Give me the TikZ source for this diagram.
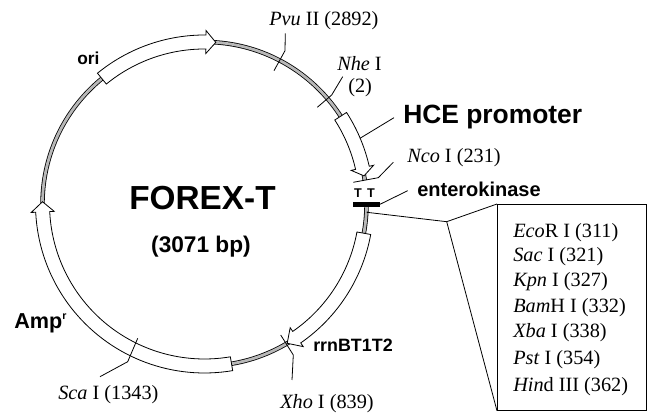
\documentclass[tikz,border=0pt]{standalone}
\usepackage{fontspec}
\setmainfont{Liberation Serif}
\setsansfont{Liberation Sans}
\newcommand{\arrowarc}[3]{%
  \pgfmathsetmacro{\angA}{#1}\pgfmathsetmacro{\angB}{#2}\pgfmathsetmacro{\angC}{#3}%
  \draw[featarrow] ([shift={(\angA:169)}]ctr) arc[start angle=\angA,end angle=\angB,radius=169]
    -- ([shift={(\angB:173.5)}]ctr) -- ([shift={(\angC:162)}]ctr) -- ([shift={(\angB:150.5)}]ctr)
    -- ([shift={(\angB:155)}]ctr) arc[start angle=\angB,end angle=\angA,radius=155] -- cycle;}
\tikzset{
  x=0.75pt,y=0.75pt,
  lead/.style={draw=black,line width=0.6pt},
  featarrow/.style={draw=black,line width=0.6pt,fill=white},
  site/.style={font=\fontsize{15.2}{17}\selectfont,inner sep=0pt},
}
\begin{document}
\begin{tikzpicture}
\useasboundingbox (0,0) rectangle (650,413);
\coordinate (ctr) at (204.5,209);
% backbone
\draw[black,line width=3.3pt] (ctr) circle[radius=162];
\draw[black!28,line width=2.1pt] (ctr) circle[radius=162];
\fill[white] (345,207) rectangle (385,233);
% feature arrows
\arrowarc{32.8}{12.9}{10}
\arrowarc{129.3}{89.5}{86}
\arrowarc{279.6}{182.8}{179.2}
\arrowarc{-10.4}{-55.3}{-59.3}
% enterokinase bar
\coordinate (barL) at (353.3,208.7);
\coordinate (barR) at (380,208.7);
\draw[black,line width=3.4pt] (barL) -- (barR);
% text
\node[font=\sffamily\bfseries\fontsize{25}{28}\selectfont,inner sep=0pt] (title) at (202.5,215) {FOREX-T};
\node[font=\sffamily\bfseries\fontsize{17}{19}\selectfont,inner sep=0pt] (size) at (201,166) {(3071 bp)};
\node[font=\sffamily\bfseries\fontsize{19.8}{22}\selectfont,inner sep=0pt,anchor=west] (hce) at (403,296) {HCE promoter};
\node[font=\sffamily\bfseries\fontsize{15}{17}\selectfont,inner sep=0pt,anchor=west] (enk) at (417,224) {enterokinase};
\node[font=\sffamily\bfseries\fontsize{13}{15}\selectfont,inner sep=0pt,anchor=west] (ori) at (77,355) {ori};
\node[font=\sffamily\bfseries\fontsize{13.4}{15}\selectfont,inner sep=0pt,anchor=west] (rrn) at (313,68) {rrnBT1T2};
\node[font=\sffamily\bfseries\fontsize{16.2}{18}\selectfont,inner sep=0pt,anchor=west] (amp) at (14,90) {Amp\textsuperscript{\fontsize{8}{9}\selectfont r}};
\node[site,anchor=west] (pvu) at (269,392.5) {\textit{Pvu} II (2892)};
\node[site,anchor=west] (nhe) at (337,349.5) {\textit{Nhe} I};
\node[site,anchor=west] (nhe2) at (348,325.5) {(2)};
\node[site,anchor=west] (nco) at (407,255.5) {\textit{Nco} I (231)};
\node[site,anchor=west] (xho) at (280,9.5) {\textit{Xho} I (839)};
\node[site,anchor=west] (sca) at (58,18.5) {\textit{Sca} I (1343)};
\node[font=\sffamily\bfseries\fontsize{9.5}{10}\selectfont,inner sep=0pt] (t1) at (358,220) {T};
\node[font=\sffamily\bfseries\fontsize{9.5}{10}\selectfont,inner sep=0pt] (t2) at (371,220) {T};
% box
\node[draw=black,line width=0.6pt,minimum width=149*0.75pt,minimum height=206*0.75pt,inner sep=0pt,anchor=north west] (box) at (497,209) {};
\node[site,anchor=west] (s1) at (513,180) {\textit{Eco}R I (311)};
\node[site,anchor=west] (s2) at (513,156) {\textit{Sac} I (321)};
\node[site,anchor=west] (s3) at (513,131) {\textit{Kpn} I (327)};
\node[site,anchor=west] (s4) at (513,105) {\textit{Bam}H I (332)};
\node[site,anchor=west] (s5) at (513,80) {\textit{Xba} I (338)};
\node[site,anchor=west] (s6) at (513,53) {\textit{Pst} I (354)};
\node[site,anchor=west] (s7) at (513,26) {\textit{Hin}d III (362)};
% leaders
\coordinate (pvuA) at (274,342.3); \coordinate (pvuB) at (285,362.3); \coordinate (pvuC) at (285.3,379.7);
\draw[lead] (pvuA) -- (pvuB) -- (pvuC);
\coordinate (nheA) at (317.3,305.7); \coordinate (nheB) at (331.7,318); \coordinate (nheC) at (342.7,336.3);
\draw[lead] (nheA) -- (nheB) -- (nheC);
\coordinate (hceA) at (360,274.7); \coordinate (hceB) at (394,295.3);
\draw[lead] (hceA) -- (hceB);
\coordinate (ncoA) at (353.3,230.7); \coordinate (ncoB) at (378.3,235.3); \coordinate (ncoC) at (393.3,250.7);
\draw[lead] (ncoA) -- (ncoB) -- (ncoC);
\coordinate (enkA) at (407.7,222.3);
\draw[lead] (barR) -- (enkA);
\coordinate (calA) at (366.7,200.7); \coordinate (calB) at (446.7,191.3);
\draw[lead] (calA) -- (calB) -- (box.north west);
\draw[lead] (calB) -- (box.south west);
\coordinate (xhoA) at (280.7,78); \coordinate (xhoB) at (293.3,58); \coordinate (xhoC) at (292,33);
\draw[lead] (xhoA) -- (xhoB) -- (xhoC);
\coordinate (scaA) at (137.7,74.7); \coordinate (scaB) at (127.7,51.3); \coordinate (scaC) at (100,36.3);
\draw[lead] (scaA) -- (scaB) -- (scaC);
\end{tikzpicture}
\end{document}
